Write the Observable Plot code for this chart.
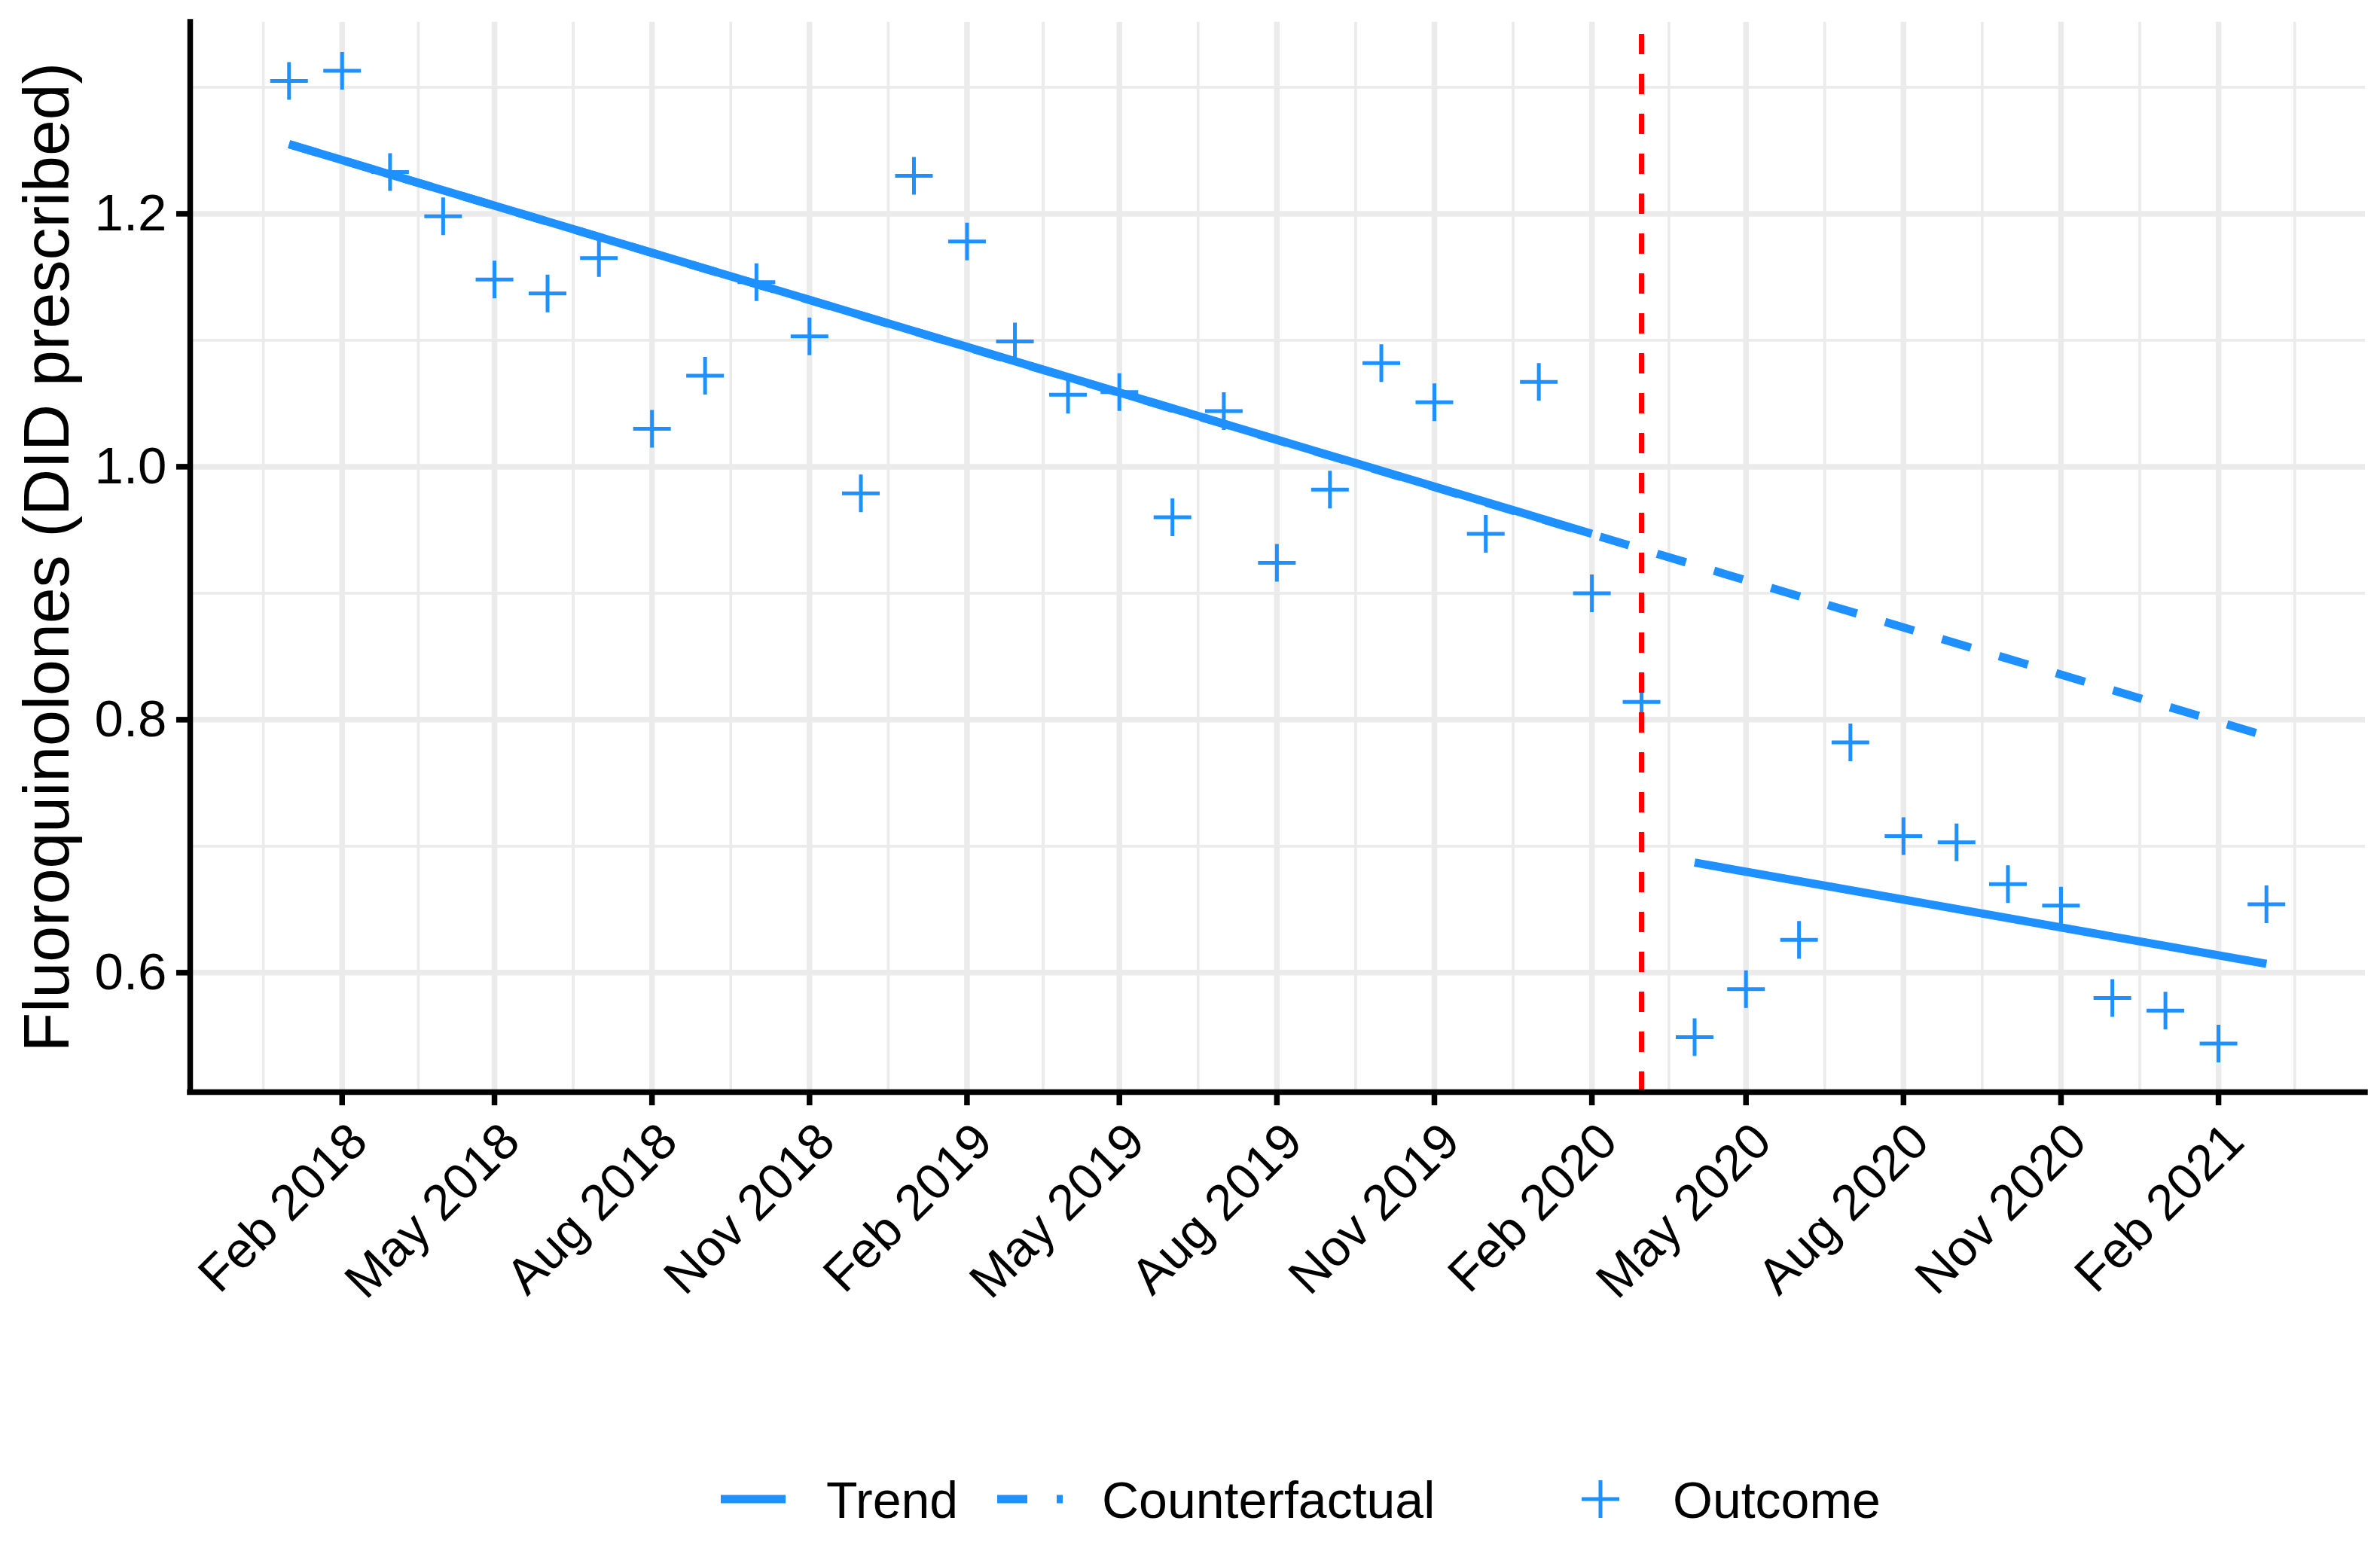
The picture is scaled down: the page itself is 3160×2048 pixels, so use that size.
<!DOCTYPE html>
<html><head><meta charset="utf-8">
<script src="https://cdn.jsdelivr.net/npm/d3@7"></script>
<script src="https://cdn.jsdelivr.net/npm/@observablehq/plot@0.6"></script>
<style>
html,body{margin:0;padding:0;background:#fff;}
#chart{width:3160px;height:2048px;position:relative;background:#fff;}
svg{display:block;}
</style></head><body><div id="chart"></div>
<script>
// ---- data ----
const months = [
  "2018-01","2018-02","2018-03","2018-04","2018-05","2018-06","2018-07","2018-08","2018-09","2018-10","2018-11","2018-12",
  "2019-01","2019-02","2019-03","2019-04","2019-05","2019-06","2019-07","2019-08","2019-09","2019-10","2019-11","2019-12",
  "2020-01","2020-02","2020-03","2020-04","2020-05","2020-06","2020-07","2020-08","2020-09","2020-10","2020-11","2020-12",
  "2021-01","2021-02","2021-03"
];
const outcome = [
  1.305, 1.313, 1.233, 1.198, 1.148, 1.137, 1.165, 1.030, 1.072, 1.146, 1.103, 0.979,
  1.230, 1.178, 1.099, 1.057, 1.059, 0.960, 1.044, 0.924, 0.982, 1.082, 1.051, 0.947,
  1.067, 0.900, 0.814, 0.549, 0.587, 0.626, 0.782, 0.708, 0.703, 0.670, 0.653, 0.580,
  0.570, 0.544, 0.654
];
const trendPreMonths = ["2018-01", "2020-02"];
const trendPreValues = [1.255, 0.947];
const trendPostMonths = ["2020-04", "2021-03"];
const trendPostValues = [0.687, 0.607];
const counterfactualMonths = ["2018-01", "2021-03"];
const counterfactualValues = [1.255, 0.787];
const interventionMonth = ["2020-03"];
const xTickMonths = ["2018-02","2018-05","2018-08","2018-11","2019-02","2019-05","2019-08","2019-11",
                     "2020-02","2020-05","2020-08","2020-11","2021-02"];
const xOuterMonths = ["2017-11", "2021-05"];
const yTicks = [0.6, 0.8, 1.0, 1.2];
const yMinorTicks = [0.7, 0.9, 1.1, 1.3];
const yLabel = "Fluoroquinolones (DID prescribed)";
const legendLabels = ["Trend", "Counterfactual", "Outcome"];

// ---- styling ----
const BLUE = "#1E90FF", RED = "#FF0000", GRID = "#EBEBEB";
const FONT = "'Liberation Sans', Arial, Helvetica, sans-serif";

const parse = d3.utcParse("%Y-%m");
const fmt = d3.utcFormat("%b %Y");

const outData = months.map((m, i) => ({date: parse(m), value: outcome[i]}));
const mk = (ms, vs) => ms.map((m, i) => ({date: parse(m), value: vs[i]}));
const preData = mk(trendPreMonths, trendPreValues);
const postData = mk(trendPostMonths, trendPostValues);
const cfData = mk(counterfactualMonths, counterfactualValues);
const xTicks = xTickMonths.map(parse);

// ggplot-like 5% expansion
const xExt = d3.extent(outData, d => +d.date);
const xPad = (xExt[1] - xExt[0]) * 0.05;
const xDomain = [new Date(xExt[0] - xPad), new Date(xExt[1] + xPad)];
const allY = [...outcome, ...trendPreValues, ...trendPostValues, ...counterfactualValues];
const yExt = d3.extent(allY);
const yPad = (yExt[1] - yExt[0]) * 0.05;
const yDomain = [yExt[0] - yPad, yExt[1] + yPad];

// minor x grid: midpoints between consecutive major ticks (incl. outer)
const majorsExt = [parse(xOuterMonths[0]), ...xTicks, parse(xOuterMonths[1])];
const xMinor = d3.pairs(majorsExt).map(([a, b]) => new Date((+a + +b) / 2));

const plusSymbol = {
  draw(ctx, size) {
    const r = Math.sqrt(size / Math.PI);
    ctx.moveTo(-r, 0); ctx.lineTo(r, 0);
    ctx.moveTo(0, -r); ctx.lineTo(0, r);
  }
};

const W = 3160, H = 1880;
const plot = Plot.plot({
  width: W, height: H,
  marginLeft: 252, marginRight: 20, marginTop: 29, marginBottom: H - 1450,
  style: {fontFamily: FONT, fontSize: "68px", background: "white", color: "black", overflow: "visible"},
  x: {type: "utc", domain: xDomain},
  y: {domain: yDomain},
  marks: [
    Plot.ruleX(xMinor, {x: d => d, stroke: GRID, strokeWidth: 3.7}),
    Plot.ruleY(yMinorTicks, {y: d => d, stroke: GRID, strokeWidth: 3.7}),
    Plot.ruleX(xTicks, {x: d => d, stroke: GRID, strokeWidth: 7.5}),
    Plot.ruleY(yTicks, {y: d => d, stroke: GRID, strokeWidth: 7.5}),
    Plot.line(cfData, {x: "date", y: "value", stroke: BLUE, strokeWidth: 11, strokeDasharray: "40,39", strokeLinecap: "butt"}),
    Plot.line(preData, {x: "date", y: "value", stroke: BLUE, strokeWidth: 11, strokeLinecap: "butt"}),
    Plot.line(postData, {x: "date", y: "value", stroke: BLUE, strokeWidth: 11, strokeLinecap: "butt"}),
    Plot.dot(outData, {x: "date", y: "value", symbol: plusSymbol, r: 25, stroke: BLUE, strokeWidth: 5, fill: "none"}),
    Plot.ruleX(interventionMonth.map(parse), {x: d => d, y1: yDomain[0], y2: yDomain[1], stroke: RED, strokeWidth: 7, strokeDasharray: "27,26"}),
    Plot.ruleY([yDomain[0]], {stroke: "black", strokeWidth: 7.5, strokeLinecap: "square"}),
    Plot.ruleX([xDomain[0]], {stroke: "black", strokeWidth: 7.5, strokeLinecap: "square"}),
    Plot.axisY({ticks: yTicks, tickFormat: d3.format(".1f"), tickSize: 18, tickPadding: 13, strokeWidth: 7.5, fontSize: 69, label: null, fill: "black"}),
    Plot.axisX({ticks: xTicks, tickFormat: () => "", tickSize: 18, strokeWidth: 7.5, label: null}),
    Plot.text(xTicks, {x: d => d, text: d => fmt(d), frameAnchor: "bottom", dx: 22, dy: 54, rotate: -45,
      textAnchor: "end", lineAnchor: "middle", fontSize: 67, fill: "black"}),
    Plot.text([yLabel], {text: d => d, frameAnchor: "left", dx: 63 - 252, rotate: -90, textAnchor: "middle",
      lineAnchor: "middle", fontSize: 86, fill: "black"})
  ]
});
document.getElementById("chart").appendChild(plot);

// ---- legend below the plot ----
const LH = 2048 - H;
const leg = d3.create("svg").attr("width", W).attr("height", LH)
  .style("font-family", FONT).style("font-size", "68px");
const ky = 111, ty = 136;
leg.append("line").attr("x1", 957).attr("x2", 1043).attr("y1", ky).attr("y2", ky)
  .attr("stroke", BLUE).attr("stroke-width", 11);
leg.append("text").attr("x", 1097).attr("y", ty).text(legendLabels[0]);
leg.append("line").attr("x1", 1324).attr("x2", 1411).attr("y1", ky).attr("y2", ky)
  .attr("stroke", BLUE).attr("stroke-width", 11).attr("stroke-dasharray", "40,39");
leg.append("text").attr("x", 1463).attr("y", ty).text(legendLabels[1]);
leg.append("path").attr("d", `M${2100},${ky}H${2150}M${2125},${ky - 25}V${ky + 25}`)
  .attr("stroke", BLUE).attr("stroke-width", 5).attr("fill", "none");
leg.append("text").attr("x", 2221).attr("y", ty).text(legendLabels[2]);
document.getElementById("chart").appendChild(leg.node());
</script>
</body></html>
